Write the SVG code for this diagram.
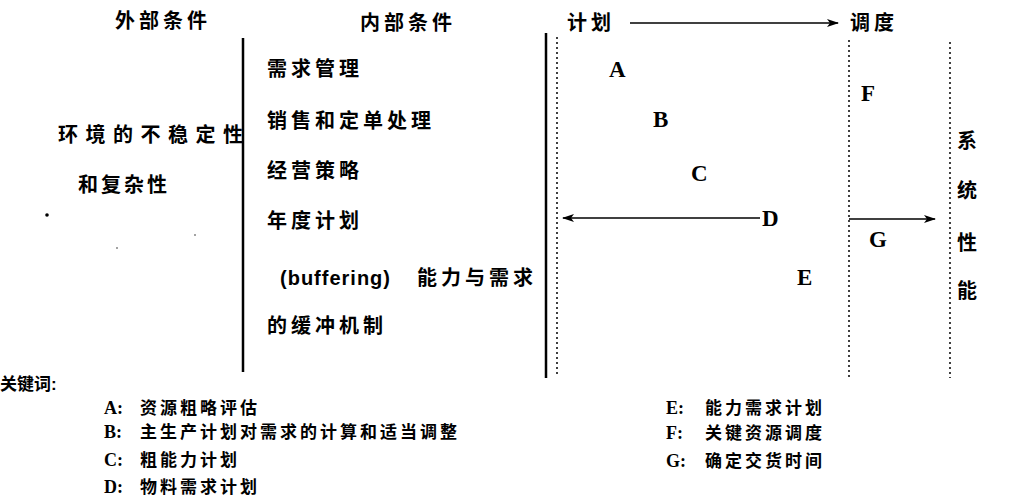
<svg xmlns="http://www.w3.org/2000/svg" width="1019" height="503" viewBox="0 0 1019 503">
<style>
.cjk{font-family:"Liberation Sans","Noto Sans CJK SC",sans-serif;font-weight:700;fill:#000}
.big{font-size:20px;letter-spacing:4px}
.lg{font-size:17px;letter-spacing:3px}
.let{font-family:"Liberation Serif",serif;font-weight:700;font-size:23px;fill:#000}
.key{font-family:"Liberation Serif",serif;font-weight:700;font-size:18px;fill:#000}
.solid{stroke:#000;stroke-width:2.5;fill:none}
.dot{stroke:#000;stroke-width:1.5;stroke-dasharray:2 3;fill:none}
.arr{stroke:#000;stroke-width:1.5;fill:none}
</style>
<defs>
<marker id="ah" viewBox="0 0 12 8" refX="11" refY="4" markerWidth="12" markerHeight="8" markerUnits="userSpaceOnUse" orient="auto-start-reverse">
<path d="M0,0 L12,4 L0,8 L3,4 Z" fill="#000"/>
</marker>
</defs>
<rect width="1019" height="503" fill="#fff"/>
<g id="frame">
<line class="solid" x1="243" y1="38" x2="243" y2="372"/>
<line class="solid" x1="546" y1="33" x2="546" y2="378"/>
<line class="dot" x1="557" y1="37" x2="557" y2="376"/>
<line class="dot" x1="849" y1="40" x2="849" y2="378"/>
<line class="dot" x1="950" y1="42" x2="950" y2="378"/>
</g>
<g id="connectors">
<line class="arr" x1="630" y1="23" x2="838" y2="23" marker-end="url(#ah)"/>
<line class="arr" x1="760" y1="218" x2="563" y2="218" marker-end="url(#ah)"/>
<line class="arr" x1="849" y1="219" x2="935" y2="219" marker-end="url(#ah)"/>
</g>
<g id="external">
<text class="cjk big" x="115" y="28" style="letter-spacing:4px">外部条件</text>
<text class="cjk big" x="58" y="142" style="letter-spacing:7.5px">环境的不稳定性</text>
<text class="cjk big" x="78" y="192" style="letter-spacing:3px">和复杂性</text>
<circle cx="47" cy="215" r="1.8" fill="#000"/>
<circle cx="117" cy="248" r="0.7" fill="#000"/>
<circle cx="195" cy="235" r="0.7" fill="#000"/>
</g>
<g id="internal">
<text class="cjk big" x="360" y="30">内部条件</text>
<text class="cjk big" x="267" y="76">需求管理</text>
<text class="cjk big" x="267" y="128">销售和定单处理</text>
<text class="cjk big" x="267" y="178">经营策略</text>
<text class="cjk big" x="267" y="228">年度计划</text>
<text x="280" y="285"><tspan class="cjk" style="font-size:20px;letter-spacing:1px">(buffering)</tspan><tspan class="cjk big" x="417">能力与需求</tspan></text>
<text class="cjk big" x="267" y="333">的缓冲机制</text>
</g>
<g id="planning">
<text class="cjk big" x="567" y="30">计划</text>
<text class="cjk big" x="850" y="30">调度</text>
<text class="let" x="609" y="77">A</text>
<text class="let" x="653" y="127">B</text>
<text class="let" x="691" y="181">C</text>
<text class="let" x="762" y="226">D</text>
<text class="let" x="797" y="285">E</text>
<text class="let" x="861" y="101">F</text>
<text class="let" x="869" y="247">G</text>
</g>
<g id="performance">
<text class="cjk big" x="957" y="148">系</text>
<text class="cjk big" x="957" y="198">统</text>
<text class="cjk big" x="957" y="250">性</text>
<text class="cjk big" x="957" y="298">能</text>
</g>
<g id="legend">
<text class="cjk lg" x="0" y="390" style="letter-spacing:0">关键词:</text>
<text x="104" y="414"><tspan class="key">A:</tspan><tspan class="cjk lg" x="140">资源粗略评估</tspan></text>
<text x="104" y="438"><tspan class="key">B:</tspan><tspan class="cjk lg" x="140">主生产计划对需求的计算和适当调整</tspan></text>
<text x="104" y="466"><tspan class="key">C:</tspan><tspan class="cjk lg" x="140">粗能力计划</tspan></text>
<text x="104" y="493"><tspan class="key">D:</tspan><tspan class="cjk lg" x="140">物料需求计划</tspan></text>
<text x="666" y="414"><tspan class="key">E:</tspan><tspan class="cjk lg" x="705">能力需求计划</tspan></text>
<text x="666" y="439"><tspan class="key">F:</tspan><tspan class="cjk lg" x="705">关键资源调度</tspan></text>
<text x="666" y="467"><tspan class="key">G:</tspan><tspan class="cjk lg" x="705">确定交货时间</tspan></text>
</g>
</svg>
